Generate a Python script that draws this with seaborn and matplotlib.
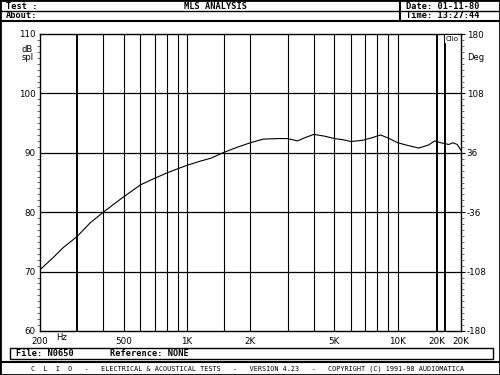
import numpy as np
import matplotlib
matplotlib.use("Agg")
import matplotlib.pyplot as plt
from matplotlib.lines import Line2D
from matplotlib.patches import Rectangle
from matplotlib.ticker import MultipleLocator, NullFormatter
import seaborn as sns

# frequency response
freq = [200, 230, 257, 300, 346, 400, 450, 500, 600, 690, 800, 900, 1000, 1156,
        1300, 1500, 1750, 2000, 2300, 2700, 3000, 3340, 3600, 4000, 4500, 5000,
        5500, 6000, 6800, 7500, 8300, 9000, 10000, 11000, 12600, 14000, 15000,
        16000, 17500, 18300, 19200, 20000]
spl = [70.3, 72.3, 74.0, 75.9, 78.2, 80.0, 81.4, 82.6, 84.6, 85.6, 86.6, 87.3,
       87.9, 88.6, 89.1, 90.1, 91.0, 91.7, 92.3, 92.4, 92.4, 92.0, 92.5, 93.1,
       92.8, 92.4, 92.2, 91.9, 92.1, 92.5, 93.0, 92.5, 91.7, 91.3, 90.8, 91.3,
       92.0, 91.7, 91.4, 91.7, 91.4, 90.4]

grid_freqs = [300, 400, 500, 600, 700, 800, 900, 1000, 1500, 2000, 3000, 4000,
              5000, 6000, 7000, 8000, 9000, 10000, 15400, 16800]
xtick_freqs = [200, 500, 1000, 2000, 5000, 10000, 15400, 20000]
xtick_labels = ["200", "500", "1K", "2K", "5K", "10K", "20K", "20K"]
db_ticks = [60, 70, 80, 90, 100, 110]
deg_ticks = [-180, -108, -36, 36, 108, 180]

sns.set_style("white")
plt.rcParams["font.family"] = ["DejaVu Sans"]
plt.rcParams["axes.unicode_minus"] = False
for k in ("text.color", "xtick.color", "ytick.color", "axes.labelcolor"):
    plt.rcParams[k] = "black"

W, H = 500, 375
fig = plt.figure(figsize=(5, 3.75), dpi=100)

def fx(x):
    return x / W

def fy(y):
    return 1 - y / H

ax = fig.add_axes([fx(40), fy(331), (461 - 40) / W, (331 - 34) / H])
ax.set_xscale("log")
ax.set_xlim(200, 20000)
ax.set_ylim(60, 110)

for f in grid_freqs:
    lw = 1.4 if f in (300, 15400, 16800) else 0.8
    ax.axvline(f, color="black", lw=lw, zorder=1)
for d in db_ticks[1:-1]:
    ax.axhline(d, color="black", lw=0.9, zorder=1)

sns.lineplot(x=freq, y=spl, ax=ax, color="black", lw=0.8, zorder=3)

ax.set_xticks(xtick_freqs)
ax.set_xticklabels(xtick_labels)
ax.xaxis.set_minor_formatter(NullFormatter())
ax.set_xticks([], minor=True)
ax.set_yticks(db_ticks)
ax.yaxis.set_minor_locator(MultipleLocator(1))
ax.tick_params(axis="x", which="major", length=3, width=0.8, pad=1, labelsize=6.3)
ax.tick_params(axis="y", which="major", length=0, pad=3, labelsize=6.3)
ax.tick_params(axis="y", which="minor", length=2, width=0.6, color="#555555",
               left=True)
ax.set_xlabel("")
ax.set_ylabel("")
for s in ax.spines.values():
    s.set_color("black")
    s.set_linewidth(1.0)

ax2 = ax.twinx()
ax2.set_ylim(-180, 180)
ax2.set_yticks(deg_ticks)
ax2.yaxis.set_minor_locator(MultipleLocator(7.2))
ax2.tick_params(axis="y", which="major", length=3, width=0.8, pad=1, labelsize=6.3)
ax2.tick_params(axis="y", which="minor", length=2, width=0.6, color="#555555")
for s in ax2.spines.values():
    s.set_visible(False)

def line(x0, y0, x1, y1, lw=1.0):
    fig.add_artist(Line2D([fx(x0), fx(x1)], [fy(y0), fy(y1)], color="black",
                          lw=lw, transform=fig.transFigure))

# frame and header
fig.add_artist(Rectangle((0, 0), 1, 1, fill=False, edgecolor="black", lw=2.0,
                         transform=fig.transFigure))
line(0, 10.5, 500, 10.5, 1.0)
line(0, 21, 500, 21, 1.5)
line(400, 0, 400, 21, 1.5)
fig.add_artist(Rectangle((fx(10), fy(359)), (493 - 10) / W, (359 - 348) / H,
                         fill=False, edgecolor="black", lw=1.0,
                         transform=fig.transFigure))
line(0, 362, 500, 362, 1.5)

mono = dict(family="DejaVu Sans Mono", fontweight="bold", fontsize=6.2,
            va="center")
fig.text(fx(6), fy(6.3), "Test :", ha="left", **mono)
fig.text(fx(216), fy(6.3), "MLS ANALYSIS", ha="center", **mono)
fig.text(fx(406), fy(6.3), "Date: 01-11-80", ha="left", **mono)
fig.text(fx(6), fy(16), "About:", ha="left", **mono)
fig.text(fx(406), fy(16), "Time: 13:27:44", ha="left", **mono)
fig.text(fx(16), fy(354), "File: N0650", ha="left", **mono)
fig.text(fx(110), fy(354), "Reference: NONE", ha="left", **mono)
fig.text(fx(248), fy(368.5),
         "C  L  I  O   -   ELECTRICAL & ACOUSTICAL TESTS   -   VERSION 4.23   -   COPYRIGHT (C) 1991-98 AUDIOMATICA",
         ha="center", family="DejaVu Sans Mono", fontsize=4.9, va="center")

small = dict(fontsize=6, va="center")
fig.text(fx(22), fy(50), "dB", ha="left", **small)
fig.text(fx(22), fy(58), "spl", ha="left", **small)
fig.text(fx(467), fy(58), "Deg", ha="left", **small)
fig.text(fx(56), fy(338), "Hz", ha="left", **small)
fig.text(fx(452), fy(39), "Clio", fontsize=5, ha="center", va="center",
         bbox=dict(facecolor="white", edgecolor="none", pad=0.5))

fig.savefig("out.png", dpi=100)
